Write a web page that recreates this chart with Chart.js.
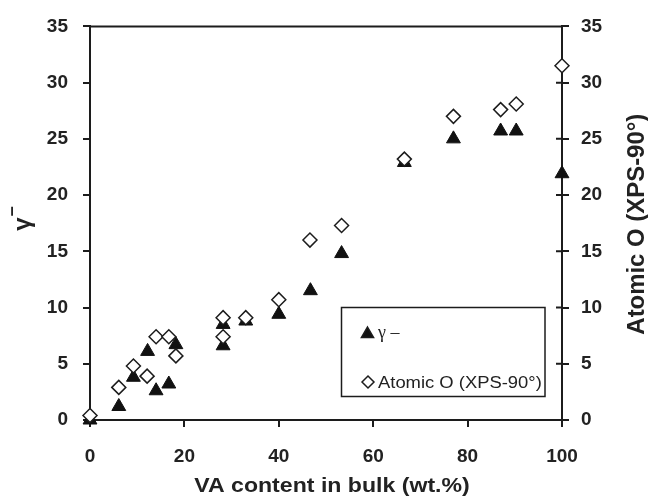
<!DOCTYPE html>
<html>
<head>
<meta charset="utf-8">
<script src="https://cdn.jsdelivr.net/npm/chart.js@4.4.1/dist/chart.umd.min.js"></script>
<style>
  html, body { margin: 0; padding: 0; background: #fff; }
  #wrap { width: 648px; height: 498px; }
</style>
</head>
<body>
<div id="wrap"><canvas id="chart" width="648" height="498"></canvas></div>
<script>
// ── Data ────────────────────────────────────────────────────────────────────
const vaGamma    = [0, 6.1, 9.2, 12.2, 14, 16.7, 18.2, 28.2, 28.2, 33, 40, 46.7, 53.3, 66.6, 77, 87, 90.3, 100]
const gammaMinus = [0, 1.2, 3.8, 6.1, 2.6, 3.2, 6.7, 8.5, 6.6, 8.8, 9.4, 11.5, 14.8, 22.9, 25.0, 25.7, 25.7, 21.9]

const vaOxygen   = [0, 6.1, 9.2, 12.1, 14, 16.7, 18.2, 28.2, 28.2, 33, 40, 46.6, 53.3, 66.6, 77, 87, 90.3, 100]
const atomicO    = [0.4, 2.9, 4.8, 3.9, 7.4, 7.4, 5.7, 9.1, 7.4, 9.1, 10.7, 16.0, 17.3, 23.2, 27.0, 27.6, 28.1, 31.5]

const xTicks = [0, 20, 40, 60, 80, 100]
const yTicks = [0, 5, 10, 15, 20, 25, 30, 35]

const INK = '#1c1c1c'
const TXT = '#222'
const FONT = "'Liberation Sans', Arial, sans-serif"
const TICK_FONT = { family: FONT, size: 19, weight: 'bold' }

const toPoints = (xs, ys) => xs.map((x, i) => ({ x, y: ys[i] }))

// text with optional rotation and stretch along the text direction
function putText(ctx, text, x, y, o) {
  ctx.save()
  ctx.translate(x, y)
  if (o.rotate) ctx.rotate(o.rotate)
  ctx.scale(o.sx || 1, 1)
  ctx.font = o.font
  ctx.fillStyle = o.color || TXT
  ctx.textAlign = o.align || 'center'
  ctx.textBaseline = 'alphabetic'
  ctx.fillText(text, 0, 0)
  ctx.restore()
}

function marker(ctx, style, r, x, y, fill) {
  const opts = { pointStyle: style, radius: r, borderWidth: 1.5, rotation: 0 }
  ctx.save()
  ctx.fillStyle = fill
  ctx.strokeStyle = INK
  ctx.lineWidth = 1.5
  Chart.helpers.drawPoint(ctx, opts, x, y)
  ctx.restore()
}

// ── Frame top, crossing ticks on right axis, titles, legend ────────────────
const decor = {
  id: 'decor',
  beforeDatasetsDraw(chart) {
    const { ctx, chartArea: a } = chart
    const y2 = chart.scales.y2
    ctx.save()
    ctx.strokeStyle = INK
    ctx.lineWidth = 2
    ctx.beginPath()
    ctx.moveTo(a.left - 1, a.top)
    ctx.lineTo(a.right + 1, a.top)
    y2.ticks.forEach(t => {
      const py = y2.getPixelForValue(t.value)
      ctx.moveTo(a.right - 6, py)
      ctx.lineTo(a.right, py)
    })
    ctx.stroke()
    ctx.restore()
  },
  afterDatasetsDraw(chart) {
    const { ctx } = chart
    const a = chart.chartArea
    const midY = (a.top + a.bottom) / 2

    // axis titles
    putText(ctx, 'VA content in bulk (wt.%)', 332, 492, { font: 'bold 21px ' + FONT, sx: 1.1 })
    putText(ctx, 'Atomic O (XPS-90°)', 644, midY + 1, { font: 'bold 23px ' + FONT, sx: 1.04, rotate: -Math.PI / 2 })
    putText(ctx, 'γ', 29.5, midY + 1, { font: 'bold 24px ' + FONT, rotate: -Math.PI / 2 })
    putText(ctx, '–', 17, midY - 12, { font: 'bold 18px ' + FONT, rotate: -Math.PI / 2 })

    // legend box
    ctx.save()
    ctx.fillStyle = '#fff'
    ctx.strokeStyle = INK
    ctx.lineWidth = 1.5
    ctx.fillRect(341.5, 307.5, 203.5, 89)
    ctx.strokeRect(341.5, 307.5, 203.5, 89)
    ctx.restore()

    marker(ctx, 'triangle', 7, 367.5, 334, '#111')
    putText(ctx, 'γ –', 378, 338, { font: "18px 'Liberation Serif', 'Times New Roman', serif", align: 'left' })
    marker(ctx, 'rectRot', 6, 368, 382, '#fff')
    putText(ctx, 'Atomic O (XPS-90°)', 378, 388, { font: '16px ' + FONT, sx: 1.15, align: 'left' })
  }
}

const axisStyle = (extra) => Object.assign({
  type: 'linear',
  min: 0,
  max: 35,
  grid: { drawOnChartArea: false, tickLength: 7, color: INK, lineWidth: 2 },
  border: { color: INK, width: 2 },
  afterBuildTicks: s => { s.ticks = yTicks.map(v => ({ value: v })) }
}, extra)

new Chart(document.getElementById('chart'), {
  type: 'scatter',
  data: {
    datasets: [
      {
        label: 'Atomic O (XPS-90°)',
        data: toPoints(vaOxygen, atomicO),
        yAxisID: 'y2',
        order: 0,
        pointStyle: 'rectRot',
        pointRadius: 7,
        pointBorderWidth: 1.5,
        pointBackgroundColor: '#fff',
        pointBorderColor: INK,
        clip: false
      },
      {
        label: 'γ –',
        data: toPoints(vaGamma, gammaMinus),
        yAxisID: 'y',
        order: 1,
        pointStyle: 'triangle',
        pointRadius: 8,
        pointBorderWidth: 1,
        pointBackgroundColor: '#111',
        pointBorderColor: '#111',
        clip: false
      }
    ]
  },
  options: {
    responsive: false,
    animation: false,
    devicePixelRatio: 1,
    layout: { padding: { top: 22, left: 0, right: 0, bottom: 0 } },
    plugins: { legend: { display: false }, tooltip: { enabled: false } },
    scales: {
      x: {
        type: 'linear',
        position: 'bottom',
        min: 0,
        max: 100,
        grid: { drawOnChartArea: false, tickLength: 7, color: INK, lineWidth: 2 },
        border: { color: INK, width: 2 },
        ticks: { color: TXT, padding: 18, font: TICK_FONT },
        afterBuildTicks: s => { s.ticks = xTicks.map(v => ({ value: v })) },
        afterFit: s => { s.height = 78 }
      },
      y: axisStyle({
        position: 'left',
        ticks: { color: TXT, padding: 15, font: TICK_FONT },
        afterFit: s => { s.width = 90 }
      }),
      y2: axisStyle({
        position: 'right',
        ticks: { color: TXT, padding: 12, font: TICK_FONT },
        afterFit: s => { s.width = 86 }
      })
    }
  },
  plugins: [decor]
})
</script>
</body>
</html>
